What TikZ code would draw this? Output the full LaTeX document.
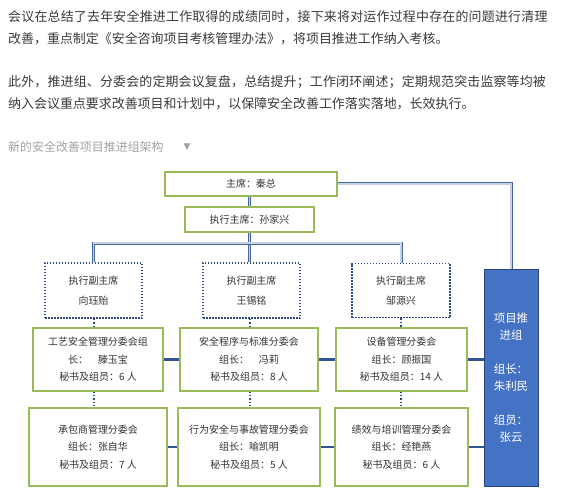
\documentclass[tikz,border=0pt]{standalone}
\usepackage{fontspec}
\setmainfont{Noto Sans CJK SC}
\newfontfamily\symfont{DejaVu Sans}
\definecolor{bodytxt}{HTML}{3A3A3A}
\definecolor{captxt}{HTML}{A3A3A3}
\definecolor{gborder}{HTML}{9BBB59}
\definecolor{navy}{HTML}{2F5597}
\definecolor{dotc}{HTML}{2E4A86}
\definecolor{dblc}{HTML}{45659F}
\definecolor{pblue}{HTML}{4472C4}
\definecolor{boxtxt}{HTML}{333333}
\begin{document}
\begin{tikzpicture}[x=1bp,y=-1bp,
  bodyline/.style={anchor=west,inner sep=0pt,text=bodytxt,font=\fontsize{13}{13}\selectfont},
  gbox/.style={draw=gborder,line width=1.2bp,fill=white,rectangle,align=center,inner sep=0pt,
    text=boxtxt,font=\fontsize{10}{17.5}\selectfont},
  dbox/.style={draw=dotc,line width=1.8bp,dash pattern=on 1.5bp off 1.5bp,fill=white,rectangle,
    align=center,inner sep=0pt,text=boxtxt,font=\fontsize{10}{20}\selectfont},
  pbox/.style={draw=navy!80!black,line width=0.8bp,fill=pblue,rectangle,align=center,inner sep=0pt,
    text=white,font=\fontsize{11.5}{17}\selectfont},
  dblconn/.style={draw=dblc,line width=0.9bp,double=dblc!30,double distance=1.2bp},
  solidconn/.style={draw=navy,line width=2.6bp},
  dotconn/.style={draw=dotc,line width=2bp,dash pattern=on 1.5bp off 1.8bp}
]
\useasboundingbox (0,0) rectangle (561,503);
\fill[white] (0,0) rectangle (561,503);

% body text
\node[bodyline,font=\fontsize{13}{13}\selectfont\addfontfeatures{LetterSpace=1.6}] (t1) at (8,17) {会议在总结了去年安全推进工作取得的成绩同时，接下来将对运作过程中存在的问题进行清理};
\node[bodyline] (t2) at (8,38.5) {改善，重点制定《安全咨询项目考核管理办法》，将项目推进工作纳入考核。};
\node[bodyline,font=\fontsize{13}{13}\selectfont\addfontfeatures{LetterSpace=1.3}] (t3) at (8,82.5) {此外，推进组、分委会的定期会议复盘，总结提升；工作闭环阐述；定期规范突击监察等均被};
\node[bodyline] (t4) at (8,104) {纳入会议重点要求改善项目和计划中，以保障安全改善工作落实落地，长效执行。};
\node[bodyline,text=captxt,font=\fontsize{12}{12}\selectfont] (cap) at (8,147) {新的安全改善项目推进组架构};
\node[inner sep=0pt,text=captxt,font=\symfont\fontsize{9}{9}\selectfont] (tri) at (187,147) {▼};

% boxes
\node[gbox,minimum width=172bp,minimum height=24bp] (chair) at (251,184) {主席：秦总};
\node[gbox,minimum width=129bp,minimum height=25bp] (exec) at (249.5,219.5) {执行主席：孙家兴};

\node[dbox,minimum width=97bp,minimum height=55bp] (v1) at (93.5,290.5) {执行副主席\\向珏贻};
\node[dbox,minimum width=97bp,minimum height=55bp] (v2) at (251.5,290.5) {执行副主席\\王锡铭};
\node[dbox,minimum width=98bp,minimum height=54bp] (v3) at (401,290.5) {执行副主席\\邹源兴};

\node[gbox,minimum width=130bp,minimum height=63bp] (A) at (98,359.5) {工艺安全管理分委会组\\长：\quad 滕玉宝\\秘书及组员：6 人};
\node[gbox,minimum width=138bp,minimum height=63bp] (B) at (249,359.5) {安全程序与标准分委会\\组长：\quad 冯莉\\秘书及组员：8 人};
\node[gbox,minimum width=131bp,minimum height=63bp] (C) at (401.5,359.5) {设备管理分委会\\组长：顾振国\\秘书及组员：14 人};

\node[gbox,minimum width=138bp,minimum height=78bp] (D) at (98,447) {承包商管理分委会\\组长：张自华\\秘书及组员：7 人};
\node[gbox,minimum width=142bp,minimum height=78bp] (E) at (249,447) {行为安全与事故管理分委会\\组长：喻凯明\\秘书及组员：5 人};
\node[gbox,minimum width=133bp,minimum height=78bp] (F) at (401.5,447) {绩效与培训管理分委会\\组长：经艳燕\\秘书及组员：6 人};

\node[pbox,minimum width=54bp,minimum height=217bp] (P) at (511,377.5) {项目推\\进组\\[17bp]组长：\\朱利民\\[17bp]组员：\\张云};

% connectors
\coordinate (bus) at (250,243);
\draw[dblconn] (chair.south -| exec.north) -- (exec.north);
\draw[dblconn] (chair.east) -| (P.north);
\draw[dblconn] (exec.south) -- (exec.south |- v2.north);
\draw[dblconn] (v1.north) |- (bus) -| (v3.north);

\draw[dotconn] (v1.south) -- (v1.south |- A.north);
\draw[dotconn] (exec.south |- v2.south) -- (exec.south |- B.north);
\draw[dotconn] (v3.south) -- (v3.south |- C.north);
\draw[dotconn] (v1.south |- A.south) -- (v1.south |- D.north);
\draw[dotconn] (exec.south |- B.south) -- (exec.south |- E.north);
\draw[dotconn] (v3.south |- C.south) -- (v3.south |- F.north);

\draw[solidconn] (A.east) -- (B.west);
\draw[solidconn] (B.east) -- (C.west);
\draw[solidconn] (C.east) -- (C.east -| P.west);
\draw[solidconn] (D.east) -- (E.west);
\draw[solidconn] (E.east) -- (F.west);
\draw[solidconn] (F.east) -- (F.east -| P.west);
\end{tikzpicture}
\end{document}
